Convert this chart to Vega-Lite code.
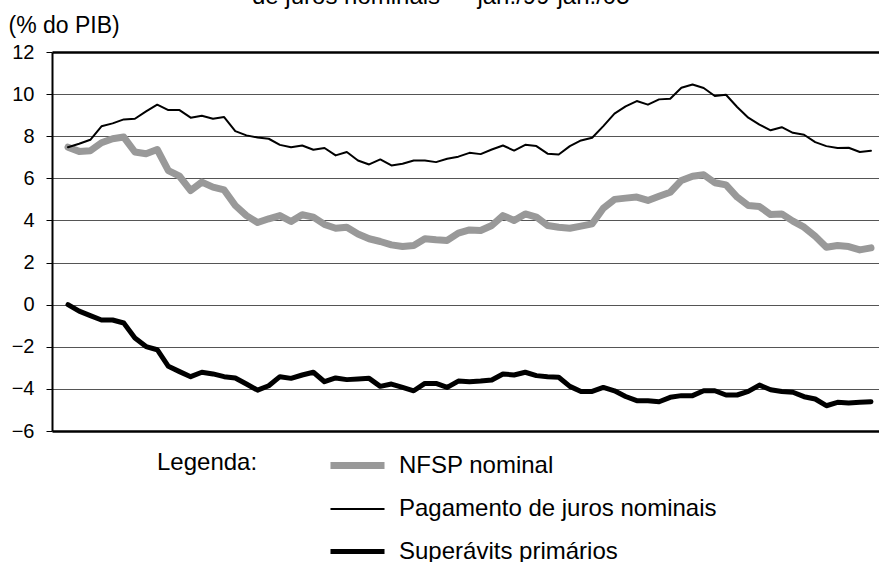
{
  "$schema": "https://vega.github.io/schema/vega-lite/v6.json",
  "width": 827,
  "height": 379,
  "autosize": {"type": "none"},
  "padding": {"top": 52, "left": 52, "right": 0, "bottom": 131},
  "background": "white",
  "title": {
    "text": "de juros nominais — jan./99-jan./05",
    "anchor": "start",
    "frame": "group",
    "dx": 200,
    "offset": -14,
    "baseline": "alphabetic",
    "fontSize": 24,
    "fontWeight": "normal",
    "color": "black",
    "font": "Liberation Sans"
  },
  "config": {"view": {"stroke": null}, "font": "Liberation Sans"},
  "data": {
    "values": [
      {"mes":0,"serie":"NFSP nominal","valor":7.48},{"mes":1,"serie":"NFSP nominal","valor":7.28},{"mes":2,"serie":"NFSP nominal","valor":7.31},{"mes":3,"serie":"NFSP nominal","valor":7.69},{"mes":4,"serie":"NFSP nominal","valor":7.88},{"mes":5,"serie":"NFSP nominal","valor":7.96},{"mes":6,"serie":"NFSP nominal","valor":7.25},{"mes":7,"serie":"NFSP nominal","valor":7.17},{"mes":8,"serie":"NFSP nominal","valor":7.37},{"mes":9,"serie":"NFSP nominal","valor":6.37},{"mes":10,"serie":"NFSP nominal","valor":6.10},{"mes":11,"serie":"NFSP nominal","valor":5.42},{"mes":12,"serie":"NFSP nominal","valor":5.82},{"mes":13,"serie":"NFSP nominal","valor":5.58},{"mes":14,"serie":"NFSP nominal","valor":5.45},{"mes":15,"serie":"NFSP nominal","valor":4.71},{"mes":16,"serie":"NFSP nominal","valor":4.23},{"mes":17,"serie":"NFSP nominal","valor":3.90},{"mes":18,"serie":"NFSP nominal","valor":4.08},{"mes":19,"serie":"NFSP nominal","valor":4.23},{"mes":20,"serie":"NFSP nominal","valor":3.95},{"mes":21,"serie":"NFSP nominal","valor":4.27},{"mes":22,"serie":"NFSP nominal","valor":4.16},{"mes":23,"serie":"NFSP nominal","valor":3.81},{"mes":24,"serie":"NFSP nominal","valor":3.63},{"mes":25,"serie":"NFSP nominal","valor":3.68},{"mes":26,"serie":"NFSP nominal","valor":3.36},{"mes":27,"serie":"NFSP nominal","valor":3.13},{"mes":28,"serie":"NFSP nominal","valor":3.00},{"mes":29,"serie":"NFSP nominal","valor":2.84},{"mes":30,"serie":"NFSP nominal","valor":2.76},{"mes":31,"serie":"NFSP nominal","valor":2.81},{"mes":32,"serie":"NFSP nominal","valor":3.13},{"mes":33,"serie":"NFSP nominal","valor":3.08},{"mes":34,"serie":"NFSP nominal","valor":3.05},{"mes":35,"serie":"NFSP nominal","valor":3.40},{"mes":36,"serie":"NFSP nominal","valor":3.55},{"mes":37,"serie":"NFSP nominal","valor":3.52},{"mes":38,"serie":"NFSP nominal","valor":3.76},{"mes":39,"serie":"NFSP nominal","valor":4.23},{"mes":40,"serie":"NFSP nominal","valor":4.00},{"mes":41,"serie":"NFSP nominal","valor":4.31},{"mes":42,"serie":"NFSP nominal","valor":4.16},{"mes":43,"serie":"NFSP nominal","valor":3.76},{"mes":44,"serie":"NFSP nominal","valor":3.68},{"mes":45,"serie":"NFSP nominal","valor":3.63},{"mes":46,"serie":"NFSP nominal","valor":3.73},{"mes":47,"serie":"NFSP nominal","valor":3.84},{"mes":48,"serie":"NFSP nominal","valor":4.58},{"mes":49,"serie":"NFSP nominal","valor":5.00},{"mes":50,"serie":"NFSP nominal","valor":5.06},{"mes":51,"serie":"NFSP nominal","valor":5.11},{"mes":52,"serie":"NFSP nominal","valor":4.95},{"mes":53,"serie":"NFSP nominal","valor":5.15},{"mes":54,"serie":"NFSP nominal","valor":5.34},{"mes":55,"serie":"NFSP nominal","valor":5.90},{"mes":56,"serie":"NFSP nominal","valor":6.10},{"mes":57,"serie":"NFSP nominal","valor":6.17},{"mes":58,"serie":"NFSP nominal","valor":5.79},{"mes":59,"serie":"NFSP nominal","valor":5.69},{"mes":60,"serie":"NFSP nominal","valor":5.11},{"mes":61,"serie":"NFSP nominal","valor":4.71},{"mes":62,"serie":"NFSP nominal","valor":4.66},{"mes":63,"serie":"NFSP nominal","valor":4.28},{"mes":64,"serie":"NFSP nominal","valor":4.31},{"mes":65,"serie":"NFSP nominal","valor":3.97},{"mes":66,"serie":"NFSP nominal","valor":3.68},{"mes":67,"serie":"NFSP nominal","valor":3.25},{"mes":68,"serie":"NFSP nominal","valor":2.73},{"mes":69,"serie":"NFSP nominal","valor":2.81},{"mes":70,"serie":"NFSP nominal","valor":2.76},{"mes":71,"serie":"NFSP nominal","valor":2.60},{"mes":72,"serie":"NFSP nominal","valor":2.70},
      {"mes":0,"serie":"Pagamento de juros nominais","valor":7.48},{"mes":1,"serie":"Pagamento de juros nominais","valor":7.64},{"mes":2,"serie":"Pagamento de juros nominais","valor":7.83},{"mes":3,"serie":"Pagamento de juros nominais","valor":8.47},{"mes":4,"serie":"Pagamento de juros nominais","valor":8.61},{"mes":5,"serie":"Pagamento de juros nominais","valor":8.80},{"mes":6,"serie":"Pagamento de juros nominais","valor":8.83},{"mes":7,"serie":"Pagamento de juros nominais","valor":9.18},{"mes":8,"serie":"Pagamento de juros nominais","valor":9.50},{"mes":9,"serie":"Pagamento de juros nominais","valor":9.24},{"mes":10,"serie":"Pagamento de juros nominais","valor":9.24},{"mes":11,"serie":"Pagamento de juros nominais","valor":8.88},{"mes":12,"serie":"Pagamento de juros nominais","valor":8.97},{"mes":13,"serie":"Pagamento de juros nominais","valor":8.83},{"mes":14,"serie":"Pagamento de juros nominais","valor":8.91},{"mes":15,"serie":"Pagamento de juros nominais","valor":8.24},{"mes":16,"serie":"Pagamento de juros nominais","valor":8.04},{"mes":17,"serie":"Pagamento de juros nominais","valor":7.94},{"mes":18,"serie":"Pagamento de juros nominais","valor":7.88},{"mes":19,"serie":"Pagamento de juros nominais","valor":7.59},{"mes":20,"serie":"Pagamento de juros nominais","valor":7.48},{"mes":21,"serie":"Pagamento de juros nominais","valor":7.56},{"mes":22,"serie":"Pagamento de juros nominais","valor":7.36},{"mes":23,"serie":"Pagamento de juros nominais","valor":7.44},{"mes":24,"serie":"Pagamento de juros nominais","valor":7.09},{"mes":25,"serie":"Pagamento de juros nominais","valor":7.25},{"mes":26,"serie":"Pagamento de juros nominais","valor":6.85},{"mes":27,"serie":"Pagamento de juros nominais","valor":6.66},{"mes":28,"serie":"Pagamento de juros nominais","valor":6.90},{"mes":29,"serie":"Pagamento de juros nominais","valor":6.61},{"mes":30,"serie":"Pagamento de juros nominais","valor":6.69},{"mes":31,"serie":"Pagamento de juros nominais","valor":6.85},{"mes":32,"serie":"Pagamento de juros nominais","valor":6.85},{"mes":33,"serie":"Pagamento de juros nominais","valor":6.77},{"mes":34,"serie":"Pagamento de juros nominais","valor":6.93},{"mes":35,"serie":"Pagamento de juros nominais","valor":7.03},{"mes":36,"serie":"Pagamento de juros nominais","valor":7.21},{"mes":37,"serie":"Pagamento de juros nominais","valor":7.15},{"mes":38,"serie":"Pagamento de juros nominais","valor":7.37},{"mes":39,"serie":"Pagamento de juros nominais","valor":7.56},{"mes":40,"serie":"Pagamento de juros nominais","valor":7.32},{"mes":41,"serie":"Pagamento de juros nominais","valor":7.59},{"mes":42,"serie":"Pagamento de juros nominais","valor":7.53},{"mes":43,"serie":"Pagamento de juros nominais","valor":7.17},{"mes":44,"serie":"Pagamento de juros nominais","valor":7.13},{"mes":45,"serie":"Pagamento de juros nominais","valor":7.53},{"mes":46,"serie":"Pagamento de juros nominais","valor":7.80},{"mes":47,"serie":"Pagamento de juros nominais","valor":7.93},{"mes":48,"serie":"Pagamento de juros nominais","valor":8.48},{"mes":49,"serie":"Pagamento de juros nominais","valor":9.07},{"mes":50,"serie":"Pagamento de juros nominais","valor":9.42},{"mes":51,"serie":"Pagamento de juros nominais","valor":9.67},{"mes":52,"serie":"Pagamento de juros nominais","valor":9.50},{"mes":53,"serie":"Pagamento de juros nominais","valor":9.75},{"mes":54,"serie":"Pagamento de juros nominais","valor":9.78},{"mes":55,"serie":"Pagamento de juros nominais","valor":10.30},{"mes":56,"serie":"Pagamento de juros nominais","valor":10.46},{"mes":57,"serie":"Pagamento de juros nominais","valor":10.29},{"mes":58,"serie":"Pagamento de juros nominais","valor":9.91},{"mes":59,"serie":"Pagamento de juros nominais","valor":9.97},{"mes":60,"serie":"Pagamento de juros nominais","valor":9.39},{"mes":61,"serie":"Pagamento de juros nominais","valor":8.88},{"mes":62,"serie":"Pagamento de juros nominais","valor":8.55},{"mes":63,"serie":"Pagamento de juros nominais","valor":8.28},{"mes":64,"serie":"Pagamento de juros nominais","valor":8.43},{"mes":65,"serie":"Pagamento de juros nominais","valor":8.16},{"mes":66,"serie":"Pagamento de juros nominais","valor":8.07},{"mes":67,"serie":"Pagamento de juros nominais","valor":7.72},{"mes":68,"serie":"Pagamento de juros nominais","valor":7.53},{"mes":69,"serie":"Pagamento de juros nominais","valor":7.44},{"mes":70,"serie":"Pagamento de juros nominais","valor":7.45},{"mes":71,"serie":"Pagamento de juros nominais","valor":7.25},{"mes":72,"serie":"Pagamento de juros nominais","valor":7.31},
      {"mes":0,"serie":"Superávits primários","valor":0.00},{"mes":1,"serie":"Superávits primários","valor":-0.31},{"mes":2,"serie":"Superávits primários","valor":-0.52},{"mes":3,"serie":"Superávits primários","valor":-0.73},{"mes":4,"serie":"Superávits primários","valor":-0.73},{"mes":5,"serie":"Superávits primários","valor":-0.87},{"mes":6,"serie":"Superávits primários","valor":-1.58},{"mes":7,"serie":"Superávits primários","valor":-1.99},{"mes":8,"serie":"Superávits primários","valor":-2.14},{"mes":9,"serie":"Superávits primários","valor":-2.93},{"mes":10,"serie":"Superávits primários","valor":-3.18},{"mes":11,"serie":"Superávits primários","valor":-3.42},{"mes":12,"serie":"Superávits primários","valor":-3.21},{"mes":13,"serie":"Superávits primários","valor":-3.29},{"mes":14,"serie":"Superávits primários","valor":-3.42},{"mes":15,"serie":"Superávits primários","valor":-3.48},{"mes":16,"serie":"Superávits primários","valor":-3.77},{"mes":17,"serie":"Superávits primários","valor":-4.06},{"mes":18,"serie":"Superávits primários","valor":-3.85},{"mes":19,"serie":"Superávits primários","valor":-3.42},{"mes":20,"serie":"Superávits primários","valor":-3.50},{"mes":21,"serie":"Superávits primários","valor":-3.34},{"mes":22,"serie":"Superávits primários","valor":-3.21},{"mes":23,"serie":"Superávits primários","valor":-3.66},{"mes":24,"serie":"Superávits primários","valor":-3.48},{"mes":25,"serie":"Superávits primários","valor":-3.56},{"mes":26,"serie":"Superávits primários","valor":-3.53},{"mes":27,"serie":"Superávits primários","valor":-3.50},{"mes":28,"serie":"Superávits primários","valor":-3.88},{"mes":29,"serie":"Superávits primários","valor":-3.77},{"mes":30,"serie":"Superávits primários","valor":-3.93},{"mes":31,"serie":"Superávits primários","valor":-4.09},{"mes":32,"serie":"Superávits primários","valor":-3.74},{"mes":33,"serie":"Superávits primários","valor":-3.74},{"mes":34,"serie":"Superávits primários","valor":-3.93},{"mes":35,"serie":"Superávits primários","valor":-3.63},{"mes":36,"serie":"Superávits primários","valor":-3.66},{"mes":37,"serie":"Superávits primários","valor":-3.63},{"mes":38,"serie":"Superávits primários","valor":-3.58},{"mes":39,"serie":"Superávits primários","valor":-3.29},{"mes":40,"serie":"Superávits primários","valor":-3.34},{"mes":41,"serie":"Superávits primários","valor":-3.21},{"mes":42,"serie":"Superávits primários","valor":-3.37},{"mes":43,"serie":"Superávits primários","valor":-3.42},{"mes":44,"serie":"Superávits primários","valor":-3.45},{"mes":45,"serie":"Superávits primários","valor":-3.88},{"mes":46,"serie":"Superávits primários","valor":-4.12},{"mes":47,"serie":"Superávits primários","valor":-4.12},{"mes":48,"serie":"Superávits primários","valor":-3.93},{"mes":49,"serie":"Superávits primários","valor":-4.09},{"mes":50,"serie":"Superávits primários","valor":-4.36},{"mes":51,"serie":"Superávits primários","valor":-4.56},{"mes":52,"serie":"Superávits primários","valor":-4.56},{"mes":53,"serie":"Superávits primários","valor":-4.61},{"mes":54,"serie":"Superávits primários","valor":-4.40},{"mes":55,"serie":"Superávits primários","valor":-4.32},{"mes":56,"serie":"Superávits primários","valor":-4.32},{"mes":57,"serie":"Superávits primários","valor":-4.09},{"mes":58,"serie":"Superávits primários","valor":-4.09},{"mes":59,"serie":"Superávits primários","valor":-4.29},{"mes":60,"serie":"Superávits primários","valor":-4.29},{"mes":61,"serie":"Superávits primários","valor":-4.12},{"mes":62,"serie":"Superávits primários","valor":-3.82},{"mes":63,"serie":"Superávits primários","valor":-4.04},{"mes":64,"serie":"Superávits primários","valor":-4.12},{"mes":65,"serie":"Superávits primários","valor":-4.16},{"mes":66,"serie":"Superávits primários","valor":-4.37},{"mes":67,"serie":"Superávits primários","valor":-4.48},{"mes":68,"serie":"Superávits primários","valor":-4.80},{"mes":69,"serie":"Superávits primários","valor":-4.64},{"mes":70,"serie":"Superávits primários","valor":-4.67},{"mes":71,"serie":"Superávits primários","valor":-4.64},{"mes":72,"serie":"Superávits primários","valor":-4.61}
    ]
  },
  "mark": {"type": "line", "strokeCap": "round", "strokeJoin": "round"},
  "encoding": {
    "x": {
      "field": "mes",
      "type": "quantitative",
      "scale": {"domain": [-1.435, 72.72], "nice": false, "zero": false},
      "axis": {"title": null, "labels": false, "ticks": false, "grid": false, "domain": false}
    },
    "y": {
      "field": "valor",
      "type": "quantitative",
      "scale": {"domain": [-6, 12], "nice": false, "zero": false},
      "axis": {
        "values": [-6, -4, -2, 0, 2, 4, 6, 8, 10, 12],
        "title": "(% do PIB)",
        "titleAngle": 0,
        "titleAlign": "left",
        "titleBaseline": "alphabetic",
        "titleX": -44,
        "titleY": -20,
        "titleFontSize": 23,
        "titleFontWeight": "normal",
        "titleColor": "black",
        "titleFont": "Liberation Sans",
        "labelFont": "Liberation Sans",
        "labelFontSize": 20,
        "labelColor": "black",
        "labelPadding": 12,
        "tickSize": 6,
        "tickColor": "black",
        "tickWidth": 1,
        "domainColor": "black",
        "domainWidth": 2,
        "grid": true,
        "gridColor": {"condition": {"test": "datum.value === 12 || datum.value === -6", "value": "black"}, "value": "#555555"},
        "gridWidth": {"condition": {"test": "datum.value === 12 || datum.value === -6", "value": 2.5}, "value": 1}
      }
    },
    "color": {
      "field": "serie",
      "type": "nominal",
      "scale": {
        "domain": ["NFSP nominal", "Pagamento de juros nominais", "Superávits primários"],
        "range": ["#999999", "#000000", "#000000"]
      },
      "legend": {
        "title": "Legenda:",
        "orient": "none",
        "legendX": 105,
        "legendY": 399,
        "direction": "vertical",
        "titleOrient": "left",
        "titleAnchor": "start",
        "titlePadding": 85,
        "titleFont": "Liberation Sans",
        "titleFontSize": 24,
        "titleFontWeight": "normal",
        "titleColor": "black",
        "labelFont": "Liberation Sans",
        "labelFontSize": 24,
        "labelColor": "black",
        "labelLimit": 0,
        "labelOffset": 27,
        "symbolType": "M-2.5,0H2.5",
        "symbolSize": 467,
        "rowPadding": 17
      }
    },
    "strokeWidth": {
      "field": "serie",
      "type": "nominal",
      "scale": {
        "type": "ordinal",
        "domain": ["NFSP nominal", "Pagamento de juros nominais", "Superávits primários"],
        "range": [7, 2, 5]
      },
      "legend": {
        "title": "Legenda:",
        "orient": "none",
        "legendX": 105,
        "legendY": 399,
        "direction": "vertical",
        "titleOrient": "left",
        "titleAnchor": "start",
        "titlePadding": 85,
        "titleFont": "Liberation Sans",
        "titleFontSize": 24,
        "titleFontWeight": "normal",
        "titleColor": "black",
        "labelFont": "Liberation Sans",
        "labelFontSize": 24,
        "labelColor": "black",
        "labelLimit": 0,
        "labelOffset": 27,
        "symbolType": "M-2.5,0H2.5",
        "symbolSize": 467,
        "rowPadding": 17
      }
    }
  }
}
